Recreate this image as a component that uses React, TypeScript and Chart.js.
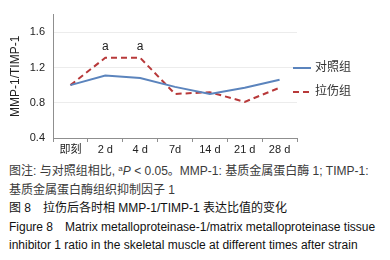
import React, { useEffect, useRef } from "react";
import { Chart, registerables } from "chart.js";

Chart.register(...registerables);

const categories = ["即刻", "2 d", "4 d", "7d", "14 d", "21 d", "28 d"];
const controlValues = [1.0, 1.11, 1.08, 0.98, 0.9, 0.97, 1.06];
const strainValues = [1.0, 1.31, 1.31, 0.9, 0.92, 0.81, 0.97];
const sigMarks = ["", "a", "a", "", "", "", ""];
const yTicks = [0.4, 0.8, 1.2, 1.6];
const seriesNames = ["对照组", "拉伤组"];

const FONT = '"Liberation Sans", Arial, "Noto Sans CJK SC", sans-serif';
const BLUE = "#5b84bd";
const RED = "#b8393a";
const AXIS = "#8f8f8f";

const annotationPlugin = {
  id: "sigMarks",
  afterDatasetsDraw(chart: any) {
    const ctx = chart.ctx;
    const meta = chart.getDatasetMeta(1);
    ctx.save();
    ctx.font = `12px ${FONT}`;
    ctx.fillStyle = "#222";
    ctx.textAlign = "center";
    ctx.textBaseline = "bottom";
    sigMarks.forEach((m, i) => {
      if (!m) return;
      const pt = meta.data[i];
      ctx.fillText(m, pt.x, pt.y - 5);
    });
    ctx.restore();
  },
};

const legendPlugin = {
  id: "customLegend",
  afterDraw(chart: any) {
    const ctx = chart.ctx;
    const x0 = chart.chartArea.right - 4;
    const ys = [68, 92];
    ctx.save();
    chart.data.datasets.forEach((ds: any, i: number) => {
      ctx.beginPath();
      ctx.strokeStyle = ds.borderColor;
      ctx.lineWidth = 2;
      ctx.setLineDash(ds.borderDash || []);
      ctx.moveTo(x0, ys[i]);
      ctx.lineTo(x0 + 18, ys[i]);
      ctx.stroke();
      ctx.setLineDash([]);
      ctx.font = `12px ${FONT}`;
      ctx.fillStyle = "#333";
      ctx.textAlign = "left";
      ctx.textBaseline = "middle";
      ctx.fillText(ds.label, x0 + 22, ys[i]);
    });
    ctx.restore();
  },
};

function LineChart() {
  const ref = useRef<HTMLCanvasElement>(null);
  useEffect(() => {
    const chart = new Chart(ref.current as HTMLCanvasElement, {
      type: "line",
      data: {
        labels: categories,
        datasets: [
          {
            label: seriesNames[0],
            data: controlValues,
            borderColor: BLUE,
            borderWidth: 2,
            pointRadius: 0,
            tension: 0,
            fill: false,
          },
          {
            label: seriesNames[1],
            data: strainValues,
            borderColor: RED,
            borderWidth: 2,
            borderDash: [6, 4],
            pointRadius: 0,
            tension: 0,
            fill: false,
          },
        ],
      },
      options: {
        animation: false,
        responsive: false,
        maintainAspectRatio: false,
        layout: { padding: { top: 10, right: 93, left: 0, bottom: 0 } },
        plugins: { legend: { display: false }, tooltip: { enabled: false } },
        scales: {
          x: {
            offset: true,
            grid: {
              offset: true,
              drawOnChartArea: false,
              drawTicks: true,
              tickLength: 4,
              color: AXIS,
            },
            border: { display: true, color: AXIS, width: 1 },
            ticks: {
              padding: 1,
              color: "#222",
              font: { family: FONT, size: 11 },
              maxRotation: 0,
            },
            afterFit: (s: any) => {
              s.height = 20;
            },
          },
          y: {
            min: 0.4,
            max: 1.8,
            afterBuildTicks: (s: any) => {
              s.ticks = yTicks.map((v) => ({ value: v }));
            },
            grid: { color: "#ececec", drawTicks: false },
            border: { display: true, color: AXIS, width: 1 },
            ticks: {
              padding: 8,
              color: "#222",
              font: { family: FONT, size: 11 },
              callback: (v: any) => Number(v).toFixed(1),
            },
            title: {
              display: true,
              text: "MMP-1/TIMP-1",
              color: "#222",
              font: { family: FONT, size: 12 },
              padding: { top: 8, bottom: 0 },
            },
            afterFit: (s: any) => {
              s.width = 53;
            },
          },
        },
      },
      plugins: [annotationPlugin, legendPlugin],
    });
    return () => chart.destroy();
  }, []);
  return <canvas ref={ref} width={390} height={158} style={{ display: "block" }} />;
}

export default function App() {
  const base: React.CSSProperties = {
    whiteSpace: "nowrap",
    height: 18.6,
    lineHeight: "18.6px",
    fontSize: 12,
    fontFamily: FONT,
  };
  return (
    <div
      style={{
        position: "fixed",
        left: 0,
        top: 0,
        width: 390,
        height: 260,
        background: "#fff",
        overflow: "hidden",
      }}
    >
      <LineChart />
      <div style={{ position: "absolute", left: 9, top: 162 }}>
        <div style={{ ...base, color: "#3a3a3a" }}>
          图注: 与对照组相比, <sup style={{ fontSize: 8, verticalAlign: "4px", lineHeight: 0 }}>a</sup>
          <i>P</i> &lt; 0.05。MMP-1: 基质金属蛋白酶 1; TIMP-1:
        </div>
        <div style={{ ...base, color: "#3a3a3a" }}>基质金属蛋白酶组织抑制因子 1</div>
        <div style={{ ...base, color: "#111" }}>
          图 8　拉伤后各时相 MMP-1/TIMP-1 表达比值的变化
        </div>
        <div style={{ ...base, color: "#111" }}>
          Figure 8　Matrix metalloproteinase-1/matrix metalloproteinase tissue
        </div>
        <div style={{ ...base, color: "#111" }}>
          inhibitor 1 ratio in the skeletal muscle at different times after strain
        </div>
      </div>
    </div>
  );
}
